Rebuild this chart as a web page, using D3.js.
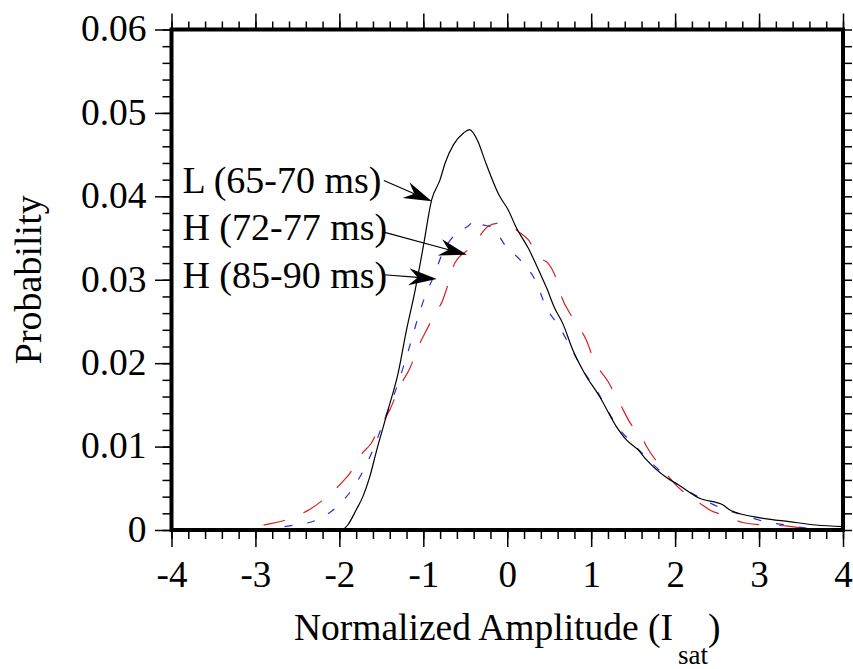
<!DOCTYPE html>
<html>
<head>
<meta charset="utf-8">
<script src="https://cdn.jsdelivr.net/npm/d3@7"></script>
<style>
  body { margin: 0; background: #fff; }
  svg { display: block; font-family: "Liberation Serif", "Times New Roman", serif; }
</style>
</head>
<body>
<div id="vis"></div>
<script>
// tick values
const xTicks = [-4, -3, -2, -1, 0, 1, 2, 3, 4];
const yTicks = [0, 0.01, 0.02, 0.03, 0.04, 0.05, 0.06];

// L (65-70 ms)
const lAmp = [-1.96, -1.9, -1.8, -1.72, -1.64, -1.56, -1.42, -1.3, -1.2, -1.1, -1.0, -0.9, -0.8, -0.74, -0.64, -0.52, -0.45, -0.35, -0.27, -0.09, 0.01, 0.11, 0.25, 0.39, 0.47, 0.56, 0.66, 0.78, 0.92, 1.1, 1.3, 1.42, 1.56, 1.66, 1.91, 2.01, 2.29, 2.57, 2.67, 3.05, 3.36, 3.68, 4.0];
const lProb = [0, 0.0006, 0.0024, 0.004, 0.0063, 0.0094, 0.0144, 0.0188, 0.0240, 0.0286, 0.034, 0.0396, 0.042, 0.044, 0.0462, 0.0476, 0.048, 0.0466, 0.0444, 0.04, 0.0384, 0.0362, 0.0338, 0.0308, 0.029, 0.0267, 0.0248, 0.0216, 0.0188, 0.016, 0.0124, 0.0108, 0.0096, 0.0084, 0.0062, 0.0056, 0.0038, 0.003, 0.0023, 0.0014, 0.001, 0.0006, 0.0004];

// H (72-77 ms)
const h1Amp = [-3.2, -2.91, -2.59, -2.27, -2.03, -1.84, -1.7, -1.6, -1.48, -1.3, -1.2, -1.14, -1.06, -0.98, -0.86, -0.78, -0.66, -0.6, -0.43, -0.4, -0.3, -0.21, -0.15, -0.03, 0.15, 0.35, 0.45, 0.63, 0.76, 0.9, 1.06, 1.3, 1.56, 1.91, 2.29, 2.53, 2.81, 3.07, 3.32, 3.6, 3.88];
const h1Prob = [0, 0.0001, 0.0005, 0.0012, 0.0028, 0.005, 0.0074, 0.0096, 0.0128, 0.0176, 0.0208, 0.0228, 0.0256, 0.028, 0.0308, 0.033, 0.035, 0.0356, 0.0368, 0.0372, 0.0366, 0.0364, 0.036, 0.0342, 0.0324, 0.0296, 0.027, 0.0242, 0.0218, 0.0192, 0.0168, 0.0126, 0.0097, 0.0063, 0.0039, 0.0027, 0.0018, 0.001, 0.0006, 0.0002, 0.00015];

// H (85-90 ms)
const h2Amp = [-3.4, -3.12, -2.85, -2.61, -2.35, -2.09, -1.96, -1.875, -1.72, -1.62, -1.54, -1.4, -1.28, -1.16, -1.04, -0.92, -0.84, -0.8, -0.7, -0.625, -0.446, -0.347, -0.228, -0.1, 0.01, 0.13, 0.25, 0.387, 0.486, 0.565, 0.645, 0.78, 0.94, 1.04, 1.2, 1.34, 1.48, 1.58, 1.66, 1.82, 1.99, 2.31, 2.43, 2.57, 2.81, 3.07, 3.32, 3.56, 3.9];
const h2Prob = [0, 0.0002, 0.0007, 0.0013, 0.0025, 0.0045, 0.0058, 0.0068, 0.0093, 0.0104, 0.012, 0.0144, 0.0172, 0.0194, 0.0224, 0.0248, 0.0266, 0.0269, 0.0296, 0.032, 0.0338, 0.035, 0.0364, 0.0368, 0.0367, 0.0358, 0.0348, 0.0326, 0.032, 0.0306, 0.028, 0.0254, 0.0228, 0.0202, 0.0178, 0.0152, 0.0126, 0.0116, 0.01, 0.0077, 0.0056, 0.0031, 0.0023, 0.0018, 0.0009, 0.0006, 0.0005, 0.0002, 0.0001];

const seriesLabels = ["L (65-70 ms)", "H (72-77 ms)", "H (85-90 ms)"];

class VisDistribution {
  constructor() {
    this.init();
  }

  init() {
    this.width = 853;
    this.height = 669;
    this.margin = { top: 29.5, right: 10, bottom: 139, left: 171.5 };

    this.x = d3.scaleLinear().domain([-4, 4])
      .range([this.margin.left, this.width - this.margin.right]);
    this.y = d3.scaleLinear().domain([0, 0.06])
      .range([this.height - this.margin.bottom, this.margin.top]);

    this.series = [
      { id: "L", label: seriesLabels[0], color: "#000", dash: null,
        values: lAmp.map((a, i) => [a, lProb[i]]),
        text: [-3.87, 0.0404], from: [-1.47, 0.0419], to: [-0.9, 0.0394] },
      { id: "H1", label: seriesLabels[1], color: "#2a2ae8", dash: "8,15",
        values: h1Amp.map((a, i) => [a, h1Prob[i]]),
        text: [-3.87, 0.0348], from: [-1.47, 0.0357], to: [-0.48, 0.033] },
      { id: "H2", label: seriesLabels[2], color: "#d92020", dash: "22,20",
        values: h2Amp.map((a, i) => [a, h2Prob[i]]),
        text: [-3.87, 0.029], from: [-1.47, 0.0306], to: [-0.84, 0.0301] },
    ];

    this.svg = d3.select("#vis").append("svg")
      .attr("width", this.width)
      .attr("height", this.height);
    this.render();
  }

  render() {
    this.renderAxes();
    this.renderLines();
    this.renderFrame();
    this.renderAnnotations();
    this.renderTitles();
  }

  renderAxes() {
    const x = this.x, y = this.y;
    const x0 = x.range()[0], x1 = x.range()[1];
    const y0 = y.range()[0], y1 = y.range()[1];
    const xMinor = d3.range(-4, 4.001, 0.2);
    const yMinor = d3.range(0, 0.0601, 0.002);

    const style = (g) => {
      g.attr("font-family", null).attr("font-size", null);
      g.select(".domain").remove();
      g.selectAll(".tick line").attr("stroke", "#000").attr("stroke-width", 1.5);
    };

    // bottom
    this.svg.append("g").attr("transform", `translate(0,${y0})`)
      .call(d3.axisBottom(x).tickValues(xMinor).tickSize(9).tickFormat(""))
      .call(style);
    this.svg.append("g").attr("transform", `translate(0,${y0})`)
      .call(d3.axisBottom(x).tickValues(xTicks).tickSize(17).tickFormat((d) => d))
      .call(style)
      .call((g) => g.selectAll(".tick text")
        .attr("y", 31).attr("dy", "0.71em")
        .attr("font-size", 37).attr("fill", "#000"));

    // top
    this.svg.append("g").attr("transform", `translate(0,${y1})`)
      .call(d3.axisTop(x).tickValues(xMinor).tickSize(8).tickFormat(""))
      .call(style);
    this.svg.append("g").attr("transform", `translate(0,${y1})`)
      .call(d3.axisTop(x).tickValues(xTicks).tickSize(16).tickFormat(""))
      .call(style);

    // left
    this.svg.append("g").attr("transform", `translate(${x0},0)`)
      .call(d3.axisLeft(y).tickValues(yMinor).tickSize(9).tickFormat(""))
      .call(style);
    this.svg.append("g").attr("transform", `translate(${x0},0)`)
      .call(d3.axisLeft(y).tickValues(yTicks).tickSize(16.5)
        .tickFormat((d) => (d === 0 ? "0" : d3.format(".2f")(d))))
      .call(style)
      .call((g) => g.selectAll(".tick text")
        .attr("x", -25).attr("dy", "0.3em")
        .attr("font-size", 37.5).attr("fill", "#000"));

    // right
    this.svg.append("g").attr("transform", `translate(${x1},0)`)
      .call(d3.axisRight(y).tickValues(yMinor).tickSize(9).tickFormat(""))
      .call(style);
  }

  renderLines() {
    const line = d3.line()
      .x((d) => this.x(d[0]))
      .y((d) => this.y(d[1]))
      .curve(d3.curveMonotoneX);

    this.svg.append("g").attr("class", "lines")
      .selectAll("path")
      .data(this.series.slice().reverse(), (d) => d.id)
      .join("path")
      .attr("fill", "none")
      .attr("stroke", (d) => d.color)
      .attr("stroke-width", 1.2)
      .attr("stroke-dasharray", (d) => d.dash)
      .attr("d", (d) => line(d.values));
  }

  renderFrame() {
    const [x0, x1] = this.x.range();
    const [y0, y1] = this.y.range();
    this.svg.append("rect")
      .attr("x", x0).attr("y", y1)
      .attr("width", x1 - x0).attr("height", y0 - y1)
      .attr("fill", "none").attr("stroke", "#000").attr("stroke-width", 4);
  }

  renderAnnotations() {
    const g = this.svg.append("g").attr("class", "annotations");
    const head = 28, half = 8.5, notch = 19;

    const row = g.selectAll("g").data(this.series).join("g");

    row.append("text")
      .attr("x", (d) => this.x(d.text[0]))
      .attr("y", (d) => this.y(d.text[1]))
      .attr("font-size", 38)
      .attr("fill", "#000")
      .text((d) => d.label);

    row.each((d, i, nodes) => {
      const ax = this.x(d.from[0]), ay = this.y(d.from[1]);
      const bx = this.x(d.to[0]), by = this.y(d.to[1]);
      const ang = Math.atan2(by - ay, bx - ax);
      const c = Math.cos(ang), s = Math.sin(ang);
      const pt = (u, v) => [bx + u * c - v * s, by + u * s + v * c];
      const sel = d3.select(nodes[i]);
      const n = pt(-notch, 0);
      sel.append("line")
        .attr("x1", ax).attr("y1", ay)
        .attr("x2", n[0]).attr("y2", n[1])
        .attr("stroke", "#000").attr("stroke-width", 1.2);
      sel.append("path")
        .attr("fill", "#000")
        .attr("d", d3.line()([pt(0, 0), pt(-head, -half), n, pt(-head, half)]) + "Z");
    });
  }

  renderTitles() {
    const t = this.svg.append("text")
      .attr("x", this.x(0))
      .attr("y", 640)
      .attr("text-anchor", "middle")
      .attr("font-size", 37.5)
      .attr("fill", "#000");
    t.append("tspan").text("Normalized Amplitude (I");
    t.append("tspan").attr("font-size", 27).attr("dy", 24).attr("dx", 5).text("sat");
    t.append("tspan").attr("dy", -24).text(")");

    this.svg.append("text")
      .attr("transform", `translate(41,${(this.y.range()[0] + this.y.range()[1]) / 2}) rotate(-90)`)
      .attr("text-anchor", "middle")
      .attr("font-size", 38)
      .attr("fill", "#000")
      .text("Probability");
  }
}

new VisDistribution();
</script>
</body>
</html>
